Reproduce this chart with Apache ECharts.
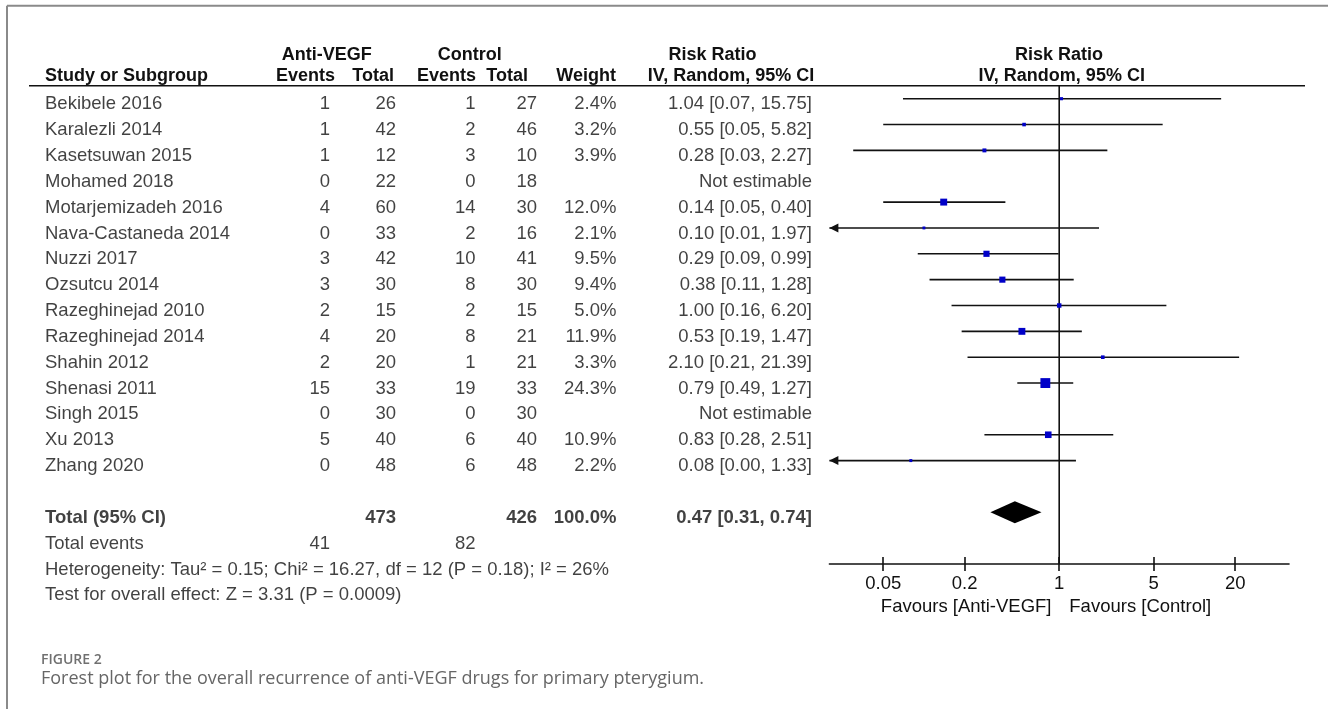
<!DOCTYPE html>
<html>
<head>
<meta charset="utf-8">
<script src="https://cdn.jsdelivr.net/npm/echarts@6/dist/echarts.min.js"></script>
<style>
  html, body { margin: 0; padding: 0; background: #fff; }
  #chartDom { width: 1328px; height: 709px; }
</style>
</head>
<body>
<div id="chartDom"></div>
<script>
// study rows
var studies = ['Bekibele 2016', 'Karalezli 2014', 'Kasetsuwan 2015', 'Mohamed 2018', 'Motarjemizadeh 2016',
  'Nava-Castaneda 2014', 'Nuzzi 2017', 'Ozsutcu 2014', 'Razeghinejad 2010', 'Razeghinejad 2014',
  'Shahin 2012', 'Shenasi 2011', 'Singh 2015', 'Xu 2013', 'Zhang 2020'];
var antiEvents = [1, 1, 1, 0, 4, 0, 3, 3, 2, 4, 2, 15, 0, 5, 0];
var antiTotal = [26, 42, 12, 22, 60, 33, 42, 30, 15, 20, 20, 33, 30, 40, 48];
var ctrlEvents = [1, 2, 3, 0, 14, 2, 10, 8, 2, 8, 1, 19, 0, 6, 6];
var ctrlTotal = [27, 46, 10, 18, 30, 16, 41, 30, 15, 21, 21, 33, 30, 40, 48];
var weights = [2.4, 3.2, 3.9, null, 12.0, 2.1, 9.5, 9.4, 5.0, 11.9, 3.3, 24.3, null, 10.9, 2.2];
var rr = [1.04, 0.55, 0.28, null, 0.14, 0.10, 0.29, 0.38, 1.00, 0.53, 2.10, 0.79, null, 0.83, 0.08];
var rrLow = [0.07, 0.05, 0.03, null, 0.05, 0.01, 0.09, 0.11, 0.16, 0.19, 0.21, 0.49, null, 0.28, 0.00];
var rrHigh = [15.75, 5.82, 2.27, null, 0.40, 1.97, 0.99, 1.28, 6.20, 1.47, 21.39, 1.27, null, 2.51, 1.33];

// pooled result
var pooled = [0.47, 0.31, 0.74];
var totalAnti = 473, totalCtrl = 426, totalWeight = '100.0%';
var eventsAnti = 41, eventsCtrl = 82;
var hetText = 'Heterogeneity: Tau\u00b2 = 0.15; Chi\u00b2 = 16.27, df = 12 (P = 0.18); I\u00b2 = 26%';
var testText = 'Test for overall effect: Z = 3.31 (P = 0.0009)';

// axis
var tickValues = [0.05, 0.2, 1, 5, 20];
var axisMin = 0.02, axisMax = 50;

var myChart = echarts.init(document.getElementById('chartDom'));

var FONT = 'Liberation Sans, Arial, sans-serif';
var INK = '#111';
var ROW0 = 98.7, PITCH = 25.85, TXT_DY = 5.5;
var ROW_TOTAL = 16, ROW_EVENTS = 17, ROW_HET = 18, ROW_TEST = 19;

function fmt2(v) { return v.toFixed(2); }
function rrLabel(i) {
  if (rr[i] == null) return 'Not estimable';
  return fmt2(rr[i]) + ' [' + fmt2(rrLow[i]) + ', ' + fmt2(rrHigh[i]) + ']';
}

// one text column of the table as a label-only scatter series
function textColumn(x, items, side, bold) {
  return {
    type: 'scatter', xAxisIndex: 0, yAxisIndex: 0, silent: true,
    symbolSize: 0, itemStyle: { color: 'rgba(0,0,0,0)' },
    data: items.filter(function (d) { return d[1] !== '' && d[1] != null; })
      .map(function (d) { return { name: String(d[1]), value: [x, d[0]] }; }),
    label: {
      show: true, position: side, distance: 0, formatter: '{b}',
      color: INK, fontFamily: FONT, fontSize: 18.5, fontWeight: bold ? 'bold' : 'normal'
    }
  };
}

var rowsOf = function (arr) { return arr.map(function (v, i) { return [i, v]; }); };

var series = [
  textColumn(45, rowsOf(studies), 'right'),
  textColumn(330, rowsOf(antiEvents), 'left'),
  textColumn(396, rowsOf(antiTotal), 'left'),
  textColumn(475.5, rowsOf(ctrlEvents), 'left'),
  textColumn(537, rowsOf(ctrlTotal), 'left'),
  textColumn(616.5, rowsOf(weights.map(function (w) { return w == null ? '' : w.toFixed(1) + '%'; })), 'left'),
  textColumn(812, rowsOf(studies.map(function (s, i) { return rrLabel(i); })), 'left'),
  // total row (bold)
  textColumn(45, [[ROW_TOTAL, 'Total (95% CI)']], 'right', true),
  textColumn(396, [[ROW_TOTAL, totalAnti]], 'left', true),
  textColumn(537, [[ROW_TOTAL, totalCtrl]], 'left', true),
  textColumn(616.5, [[ROW_TOTAL, totalWeight]], 'left', true),
  textColumn(812, [[ROW_TOTAL, fmt2(pooled[0]) + ' [' + fmt2(pooled[1]) + ', ' + fmt2(pooled[2]) + ']']], 'left', true),
  // footer rows
  textColumn(45, [[ROW_EVENTS, 'Total events'], [ROW_HET, hetText], [ROW_TEST, testText]], 'right'),
  textColumn(330, [[ROW_EVENTS, eventsAnti]], 'left'),
  textColumn(475.5, [[ROW_EVENTS, eventsCtrl]], 'left'),

  // line of no effect
  {
    type: 'line', xAxisIndex: 1, yAxisIndex: 1, silent: true, symbol: 'none',
    data: [[0, -0.5], [0, ROW_HET]],
    lineStyle: { color: INK, width: 1.6 }, z: 3
  },
  // confidence intervals
  {
    type: 'custom', xAxisIndex: 1, yAxisIndex: 1, silent: true, z: 4,
    data: studies.map(function (s, i) { return rr[i] == null ? null : [Math.log10(rr[i]), i]; })
      .filter(function (d) { return d; }),
    encode: { x: 0, y: 1 },
    renderItem: function (params, api) {
      var i = api.value(1);
      var lo = rrLow[i] > 0 ? Math.log10(rrLow[i]) : -Infinity;
      var hi = Math.log10(rrHigh[i]);
      var lMin = Math.log10(axisMin), lMax = Math.log10(axisMax);
      var p1 = api.coord([Math.max(lo, lMin), i]);
      var p2 = api.coord([Math.min(hi, lMax), i]);
      var kids = [{
        type: 'line',
        shape: { x1: p1[0], y1: p1[1], x2: p2[0], y2: p2[1] },
        style: { stroke: INK, lineWidth: 1.6 }
      }];
      if (lo < lMin) {
        kids.push({ type: 'polygon', shape: { points: [[p1[0], p1[1]], [p1[0] + 9, p1[1] - 4.5], [p1[0] + 9, p1[1] + 4.5]] }, style: { fill: INK } });
      }
      if (hi > lMax) {
        kids.push({ type: 'polygon', shape: { points: [[p2[0], p2[1]], [p2[0] - 9, p2[1] - 4.5], [p2[0] - 9, p2[1] + 4.5]] }, style: { fill: INK } });
      }
      return { type: 'group', children: kids };
    }
  },
  // study weights
  {
    type: 'scatter', xAxisIndex: 1, yAxisIndex: 1, silent: true, z: 5,
    symbol: 'rect',
    data: studies.map(function (s, i) { return rr[i] == null ? null : [Math.log10(rr[i]), i, weights[i]]; })
      .filter(function (d) { return d; }),
    symbolSize: function (val) { return 2 * Math.sqrt(val[2]); },
    itemStyle: { color: '#0000c8', opacity: 1 }
  },
  // pooled diamond
  {
    type: 'custom', xAxisIndex: 1, yAxisIndex: 1, silent: true, z: 5,
    data: [[Math.log10(pooled[0]), ROW_TOTAL]],
    encode: { x: 0, y: 1 },
    renderItem: function (params, api) {
      var c = api.coord([api.value(0), api.value(1)]);
      var l = api.coord([Math.log10(pooled[1]), api.value(1)]);
      var r = api.coord([Math.log10(pooled[2]), api.value(1)]);
      return {
        type: 'polygon',
        shape: { points: [[l[0], c[1]], [c[0], c[1] - 11], [r[0], c[1]], [c[0], c[1] + 11]] },
        style: { fill: '#000' }
      };
    }
  }
];

var xLog = {
  type: 'value', gridIndex: 1, position: 'bottom',
  min: Math.log10(axisMin), max: Math.log10(axisMax),
  splitLine: { show: false }
};

var HEAD = 'bold 18px ' + FONT;

var option = {
  backgroundColor: '#fff',
  animation: false,
  grid: [
    // table grid: x in page pixels, y in rows
    { left: 0, width: 1328, top: ROW0 + TXT_DY - 3 * PITCH, height: 23 * PITCH },
    // forest plot grid
    { left: 829.4, width: 459.6, top: ROW0 - 0.5 * PITCH, height: 18.5 * PITCH }
  ],
  xAxis: [
    { type: 'value', gridIndex: 0, min: 0, max: 1328, show: false },
    Object.assign({}, xLog, {
      axisLine: { show: true, onZero: false, lineStyle: { color: INK, width: 1.6 } },
      axisTick: { show: true, inside: false, length: 7, lineStyle: { color: INK, width: 1.6 },
        customValues: tickValues.map(Math.log10) },
      axisLabel: {
        show: true, margin: 10, color: INK, fontFamily: FONT, fontSize: 18.5,
        customValues: tickValues.map(Math.log10),
        formatter: function (v) {
          var x = Math.pow(10, v);
          for (var k = 0; k < tickValues.length; k++) {
            if (Math.abs(tickValues[k] - x) < 1e-6 * tickValues[k] + 1e-9) return String(tickValues[k]);
          }
          return '';
        }
      }
    }),
    Object.assign({}, xLog, {
      axisLine: { show: false, onZero: false },
      axisTick: { show: true, inside: true, length: 7, lineStyle: { color: INK, width: 1.6 },
        customValues: tickValues.map(Math.log10) },
      axisLabel: { show: false }
    })
  ],
  yAxis: [
    { type: 'value', gridIndex: 0, inverse: true, min: -3, max: 20, show: false },
    { type: 'value', gridIndex: 1, inverse: true, min: -0.5, max: ROW_HET, show: false }
  ],
  graphic: [
    // frame
    { type: 'line', shape: { x1: 7, y1: 5.7, x2: 1328, y2: 5.7 }, style: { stroke: '#8a8a8a', lineWidth: 2 } },
    { type: 'line', shape: { x1: 7, y1: 5.7, x2: 7, y2: 709 }, style: { stroke: '#8a8a8a', lineWidth: 2 } },
    // header rule
    { type: 'line', shape: { x1: 29, y1: 85.7, x2: 1305, y2: 85.7 }, style: { stroke: INK, lineWidth: 1.6 } },
    // headers
    { type: 'text', x: 326.7, y: 55, style: { text: 'Anti-VEGF', align: 'center', verticalAlign: 'middle', fill: INK, font: HEAD } },
    { type: 'text', x: 469.7, y: 55, style: { text: 'Control', align: 'center', verticalAlign: 'middle', fill: INK, font: HEAD } },
    { type: 'text', x: 712.5, y: 55, style: { text: 'Risk Ratio', align: 'center', verticalAlign: 'middle', fill: INK, font: HEAD } },
    { type: 'text', x: 1059, y: 55, style: { text: 'Risk Ratio', align: 'center', verticalAlign: 'middle', fill: INK, font: HEAD } },
    { type: 'text', x: 45, y: 76, style: { text: 'Study or Subgroup', align: 'left', verticalAlign: 'middle', fill: INK, font: HEAD } },
    { type: 'text', x: 335, y: 76, style: { text: 'Events', align: 'right', verticalAlign: 'middle', fill: INK, font: HEAD } },
    { type: 'text', x: 394, y: 76, style: { text: 'Total', align: 'right', verticalAlign: 'middle', fill: INK, font: HEAD } },
    { type: 'text', x: 476, y: 76, style: { text: 'Events', align: 'right', verticalAlign: 'middle', fill: INK, font: HEAD } },
    { type: 'text', x: 528, y: 76, style: { text: 'Total', align: 'right', verticalAlign: 'middle', fill: INK, font: HEAD } },
    { type: 'text', x: 616, y: 76, style: { text: 'Weight', align: 'right', verticalAlign: 'middle', fill: INK, font: HEAD } },
    { type: 'text', x: 731, y: 76, style: { text: 'IV, Random, 95% CI', align: 'center', verticalAlign: 'middle', fill: INK, font: HEAD } },
    { type: 'text', x: 1061.7, y: 76, style: { text: 'IV, Random, 95% CI', align: 'center', verticalAlign: 'middle', fill: INK, font: HEAD } },
    // favours
    { type: 'text', x: 1051.5, y: 607, style: { text: 'Favours [Anti-VEGF]', align: 'right', verticalAlign: 'middle', fill: INK, font: '18.5px ' + FONT } },
    { type: 'text', x: 1069.3, y: 607, style: { text: 'Favours [Control]', align: 'left', verticalAlign: 'middle', fill: INK, font: '18.5px ' + FONT } },
    // caption
    { type: 'text', x: 41, y: 660, style: { text: 'FIGURE 2', align: 'left', verticalAlign: 'middle', fill: '#707070', font: '600 14px "Open Sans", "Noto Sans", sans-serif' } },
    { type: 'text', x: 41, y: 679, style: { text: 'Forest plot for the overall recurrence of anti-VEGF drugs for primary pterygium.', align: 'left', verticalAlign: 'middle', fill: '#666', font: '18px "Open Sans", "Noto Sans", sans-serif' } }
  ],
  series: series
};

myChart.setOption(option);
</script>
</body>
</html>
